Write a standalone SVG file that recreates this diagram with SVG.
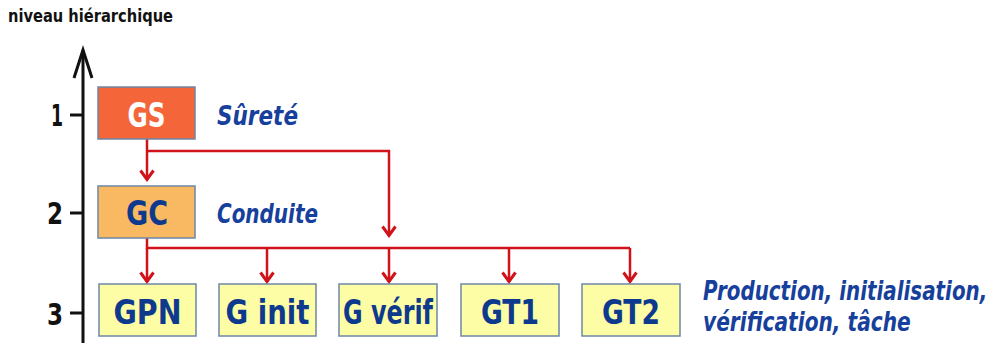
<svg xmlns="http://www.w3.org/2000/svg" width="1004" height="343" viewBox="0 0 1004 343">
<style>
.box{stroke:#6f86a6;stroke-width:1.5}
.bt{font-family:"DejaVu Sans","Liberation Sans",sans-serif;font-weight:bold;font-size:34px;fill:#0e3a8e;text-anchor:middle}
.lbl{font-family:"DejaVu Sans","Liberation Sans",sans-serif;font-weight:bold;font-style:italic;font-size:26px;fill:#173f9c}
.num{font-family:"DejaVu Sans","Liberation Sans",sans-serif;font-weight:bold;font-size:30px;fill:#111}
.ax{stroke:#111;stroke-width:3;fill:none}
.con{stroke:#d0121b;stroke-width:2.5;fill:none}
</style>
<defs>
<marker id="ah" viewBox="0 0 14 16" refX="12.5" refY="8" markerWidth="14" markerHeight="16" markerUnits="userSpaceOnUse" orient="auto">
<path d="M3,1.5 L12,8 L3,14.5" fill="none" stroke="#d0121b" stroke-width="3"/>
</marker>
</defs>
<text x="8" y="22" class="num" style="font-size:18px" textLength="165" lengthAdjust="spacingAndGlyphs">niveau hiérarchique</text>
<g id="axis">
<line class="ax" x1="83" y1="50" x2="83" y2="343"/>
<path class="ax" d="M74,78 L83,50 L92,78"/>
<line class="ax" x1="70" y1="115" x2="83" y2="115"/>
<line class="ax" x1="70" y1="213" x2="83" y2="213"/>
<line class="ax" x1="70" y1="313" x2="83" y2="313"/>
<text x="51" y="126" class="num" textLength="12" lengthAdjust="spacingAndGlyphs">1</text>
<text x="47" y="224" class="num" textLength="16" lengthAdjust="spacingAndGlyphs">2</text>
<text x="47" y="325" class="num" textLength="16" lengthAdjust="spacingAndGlyphs">3</text>
</g>
<g id="connectors">
<path class="con" d="M147,139 V180" marker-end="url(#ah)"/>
<path class="con" d="M147,151 H389 V236" marker-end="url(#ah)"/>
<path class="con" d="M147,238 V248 H630"/>
<path class="con" d="M147,248 V282" marker-end="url(#ah)"/>
<path class="con" d="M267,248 V282" marker-end="url(#ah)"/>
<path class="con" d="M389,248 V282" marker-end="url(#ah)"/>
<path class="con" d="M509,248 V282" marker-end="url(#ah)"/>
<path class="con" d="M630,248 V282" marker-end="url(#ah)"/>
</g>
<g id="GS">
<rect class="box" x="98" y="87" width="97" height="52" fill="#f4663a"/>
<text x="146.5" y="127" class="bt" style="fill:#fff" textLength="38" lengthAdjust="spacingAndGlyphs">GS</text>
<text x="217" y="125" class="lbl" textLength="81" lengthAdjust="spacingAndGlyphs">Sûreté</text>
</g>
<g id="GC">
<rect class="box" x="98" y="186" width="97" height="52" fill="#f9b862"/>
<text x="147" y="225" class="bt" textLength="42" lengthAdjust="spacingAndGlyphs">GC</text>
<text x="217" y="223" class="lbl" textLength="101" lengthAdjust="spacingAndGlyphs">Conduite</text>
</g>
<g id="GPN">
<rect class="box" x="99" y="284" width="97" height="52" fill="#fdfda6"/>
<text x="147.5" y="324" class="bt" textLength="68" lengthAdjust="spacingAndGlyphs">GPN</text>
</g>
<g id="Ginit">
<rect class="box" x="219" y="284" width="97" height="52" fill="#fdfda6"/>
<text x="267.5" y="324" class="bt" textLength="84" lengthAdjust="spacingAndGlyphs">G init</text>
</g>
<g id="Gverif">
<rect class="box" x="339" y="284" width="98" height="52" fill="#fdfda6"/>
<text x="388" y="324" class="bt" textLength="90" lengthAdjust="spacingAndGlyphs">G vérif</text>
</g>
<g id="GT1">
<rect class="box" x="461" y="284" width="98" height="52" fill="#fdfda6"/>
<text x="510" y="324" class="bt" textLength="58" lengthAdjust="spacingAndGlyphs">GT1</text>
</g>
<g id="GT2">
<rect class="box" x="582" y="284" width="98" height="52" fill="#fdfda6"/>
<text x="631" y="324" class="bt" textLength="58" lengthAdjust="spacingAndGlyphs">GT2</text>
</g>
<g id="level3label">
<text transform="translate(703,300) scale(0.75,1)" x="0" y="0" class="lbl" textLength="379" lengthAdjust="spacingAndGlyphs">Production, initialisation,</text>
<text transform="translate(703,331) scale(0.75,1)" x="0" y="0" class="lbl" textLength="277" lengthAdjust="spacingAndGlyphs">vérification, tâche</text>
</g>
</svg>
